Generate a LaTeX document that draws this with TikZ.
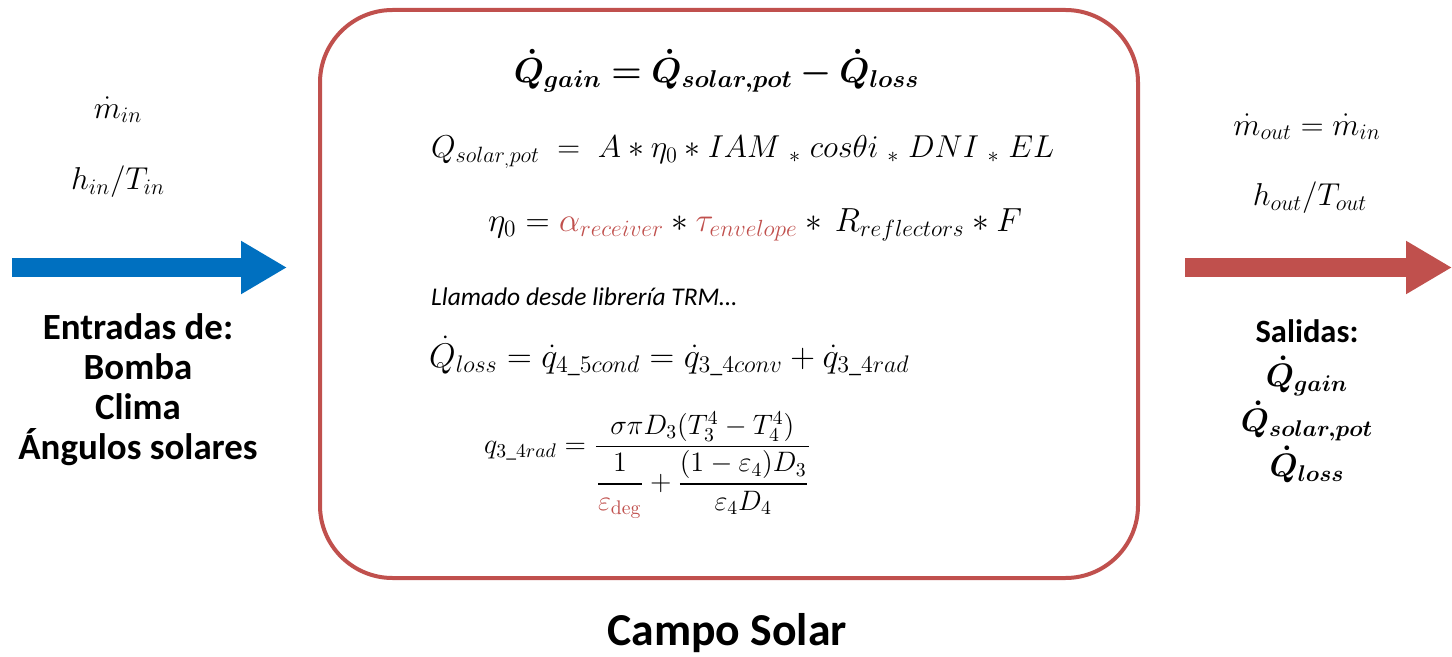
\RequirePackage{fix-cm}
\documentclass[tikz,border=0pt]{standalone}
\usepackage{amsmath}
\usepackage{bm}
\usepackage[no-math]{fontspec}
\setmainfont{Carlito}
\usepackage{xcolor}
\usetikzlibrary{arrows.meta, positioning}
\definecolor{boxred}{HTML}{C0504D}
\definecolor{flowblue}{HTML}{0070C0}

\begin{document}
\begin{tikzpicture}[
    lbl/.style={font=\bfseries\fontsize{21}{22.7}\selectfont, align=center},
    eq/.style={font=\fontsize{18}{22}\selectfont},
    flow/.style={line width=0.38cm, -{Triangle[length=0.92cm, width=1.0cm]}}]
    \useasboundingbox (0,0) rectangle (29.04,-13.14);

    % campo solar
    \node[draw=boxred, line width=0.08cm, rounded corners=1.45cm,
        minimum width=16.36cm, minimum height=11.36cm] (campo) at (14.58,-5.88) {};
    \node[font=\bfseries\fontsize{26}{30}\selectfont] (titulo) at (14.54,-12.66) {Campo Solar};

    % equations
    \node[font=\fontsize{19.8}{24}\selectfont] (qgain) at (14.33,-1.42)
        {$\bm{\dot Q_{gain} = \dot Q_{solar,pot} - \dot Q_{loss}}$};
    \node[eq, anchor=west] (qsolar) at (8.5,-3.04)
        {$Q_{solar_{,}pot} \;=\; A \ast \eta_0 \ast IAM \;{}_{\ast}\; cos\theta i \;{}_{\ast}\; DNI \;{}_{\ast}\; EL$};
    \node[eq, font=\fontsize{19}{22}\selectfont] (eta) at (15.1,-4.5)
        {$\eta_0 = \textcolor{boxred}{\alpha_{receiver}} \ast \textcolor{boxred}{\tau_{envelope}} \ast\, R_{reflectors} \ast F$};
    \node[font=\itshape\fontsize{14.5}{17}\selectfont, anchor=west] (trm) at (8.5,-5.94)
        {Llamado desde librería TRM\ldots};
    \node[eq, font=\fontsize{19.5}{22}\selectfont, anchor=west] (qloss) at (8.46,-7.12)
        {$\dot Q_{loss} = \dot q_{4\_5cond} = \dot q_{3\_4conv} + \dot q_{3\_4rad}$};
    \node[font=\fontsize{16}{19}\selectfont, anchor=west] (qrad) at (9.56,-9.3)
        {$q_{3\_4rad} = \dfrac{\sigma\pi D_3(T_3^4-T_4^4)}{\dfrac{1}{\textcolor{boxred}{\varepsilon_{\mathrm{deg}}}}+\dfrac{(1-\varepsilon_4)D_3}{\varepsilon_4 D_4}}$};

    % inputs
    \node[eq] (min) at (2.36,-2.2) {$\dot m_{in}$};
    \node[eq] (hin) at (2.36,-3.64) {$h_{in}/T_{in}$};
    \coordinate (inA) at (0.24,-5.35);
    \coordinate (inB) at (5.74,-5.35);
    \draw[flow, flowblue] (inA) -- (inB);
    \node[lbl] (entradas) at (2.76,-7.8) {Entradas de:\\Bomba\\Clima\\Ángulos solares};

    % outputs
    \node[eq] (mout) at (26.14,-2.54) {$\dot m_{out} = \dot m_{in}$};
    \node[eq] (hout) at (26.2,-3.96) {$h_{out}/T_{out}$};
    \coordinate (outA) at (23.7,-5.35);
    \coordinate (outB) at (29.04,-5.35);
    \draw[flow, boxred] (outA) -- (outB);
    \node[lbl, font=\bfseries\fontsize{18.5}{25.5}\selectfont] (salidas) at (26.14,-8.02)
        {Salidas:\\$\bm{\dot Q_{gain}}$\\$\bm{\dot Q_{solar,pot}}$\\$\bm{\dot Q_{loss}}$};
\end{tikzpicture}
\end{document}
